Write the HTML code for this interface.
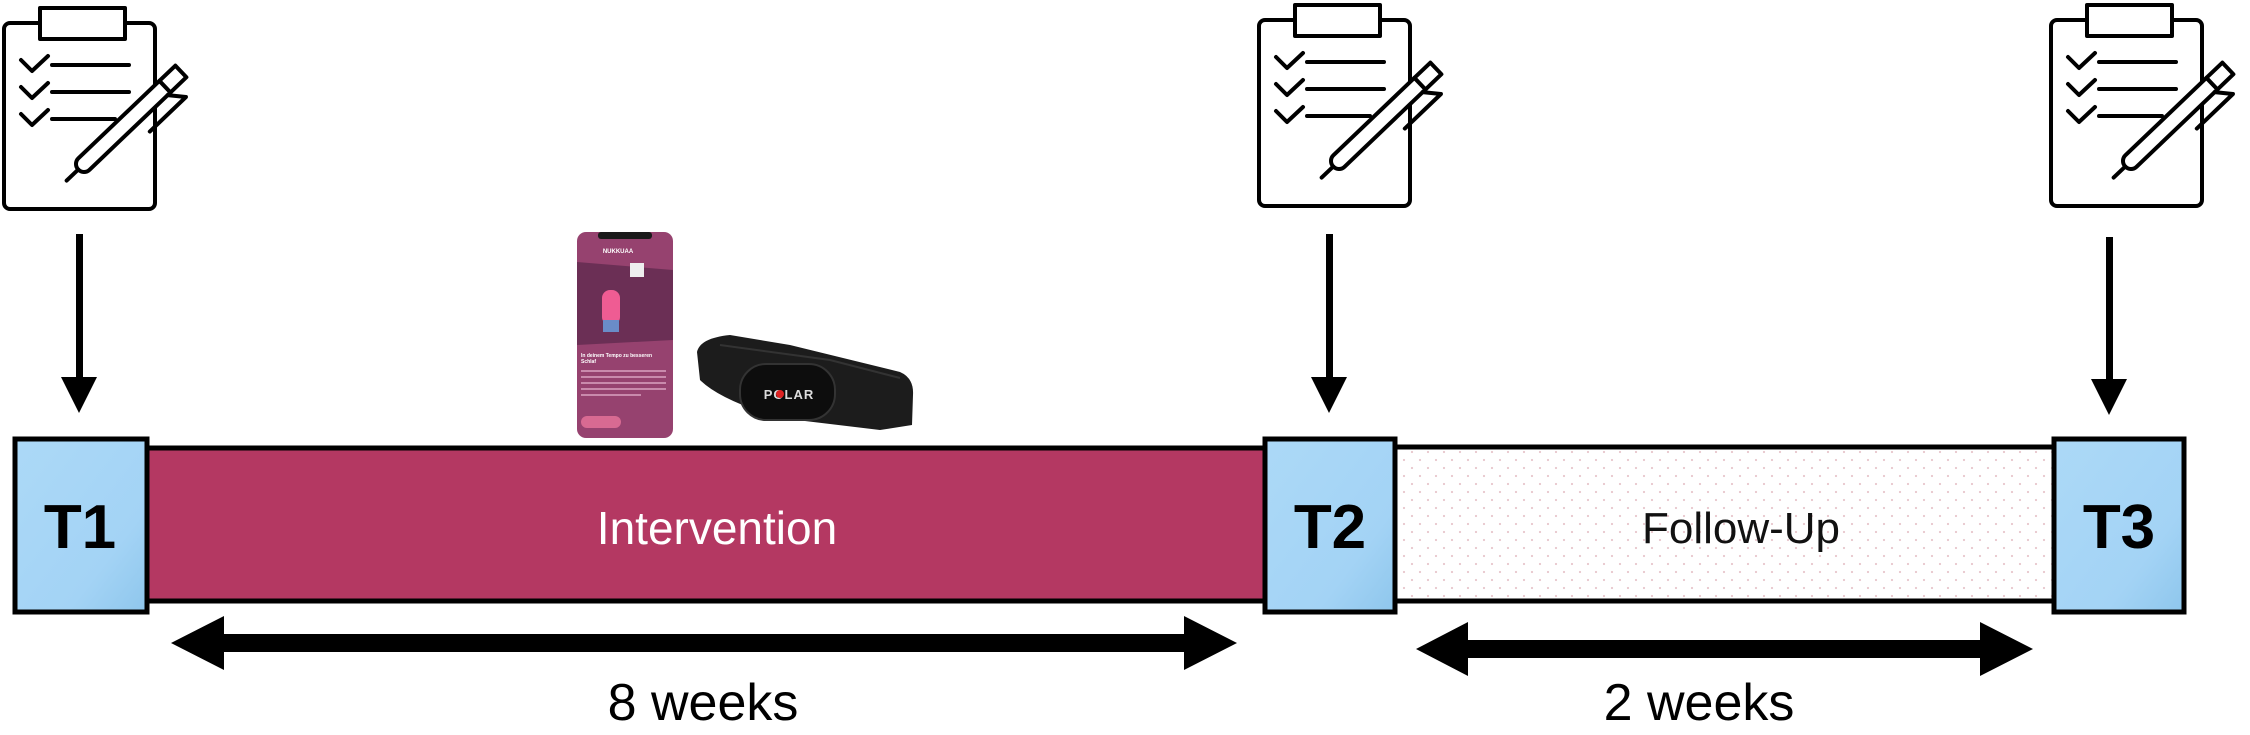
<!DOCTYPE html>
<html><head><meta charset="utf-8"><style>
html,body{margin:0;padding:0;background:#fff;}
svg{display:block;}
text{font-family:"Liberation Sans",sans-serif;}
</style></head><body>
<svg width="2250" height="735" viewBox="0 0 2250 735" xmlns="http://www.w3.org/2000/svg">
<defs>
<linearGradient id="bl" x1="0" y1="0" x2="1" y2="1">
<stop offset="0" stop-color="#acd9f7"/><stop offset="0.7" stop-color="#a3d3f5"/><stop offset="1" stop-color="#8ec6ec"/>
</linearGradient>
<pattern id="dots" width="16" height="16" patternUnits="userSpaceOnUse">
<rect width="16" height="16" fill="#fff"/><circle cx="4" cy="4" r="1.1" fill="#e8c6cc"/><circle cx="12" cy="12" r="1.1" fill="#e8c6cc"/>
</pattern>
<g id="clip" fill="none" stroke="#000" stroke-width="4" stroke-linecap="round" stroke-linejoin="round">
<rect x="4" y="23" width="151" height="186" rx="6" fill="#fff"/>
<rect x="40" y="8" width="85" height="31" fill="#fff"/>
<path d="M21 60l11 11 16-15M21 87l11 11 16-15M21 114l11 11 16-15"/>
<path d="M52 65h77M52 92h77M52 119h63"/>
<g transform="translate(84,164) rotate(-43.7)">
<path d="M0,-8 L112,-8 L112,8 L0,8 A8,8 0 0 1 0,-8 Z" fill="#fff"/>
<rect x="112" y="-8" width="22" height="16" fill="#fff"/>
<path d="M-8,0 L-24,0"/>
<path d="M108,8 L120,22 L70,22"/>
</g>
</g>
</defs>

<use href="#clip" x="0" y="0"/>
<use href="#clip" x="1255" y="-3"/>
<use href="#clip" x="2047" y="-3"/>

<g fill="#000">
<rect x="76" y="234" width="7" height="145"/><polygon points="61,377 97,377 79,413"/>
<rect x="1326" y="234" width="7" height="145"/><polygon points="1311,377 1347,377 1329,413"/>
<rect x="2106" y="237" width="7" height="145"/><polygon points="2091,379 2127,379 2109,415"/>
</g>

<rect x="146" y="448" width="1120" height="153" fill="#b43862" stroke="#000" stroke-width="5"/>
<rect x="1394" y="447" width="660" height="154" fill="url(#dots)" stroke="#000" stroke-width="5"/>
<rect x="15" y="439" width="132" height="173" fill="url(#bl)" stroke="#000" stroke-width="5"/>
<rect x="1265" y="439" width="130" height="173" fill="url(#bl)" stroke="#000" stroke-width="5"/>
<rect x="2054" y="439" width="130" height="173" fill="url(#bl)" stroke="#000" stroke-width="5"/>

<text x="80" y="548" font-size="62" font-weight="bold" text-anchor="middle">T1</text>
<text x="1330" y="548" font-size="62" font-weight="bold" text-anchor="middle">T2</text>
<text x="2119" y="548" font-size="62" font-weight="bold" text-anchor="middle">T3</text>
<text x="717" y="544" font-size="46" fill="#fff" text-anchor="middle">Intervention</text>
<text x="1741" y="543" font-size="44" fill="#111" text-anchor="middle">Follow-Up</text>

<g fill="#000">
<polygon points="171,643 224,616 224,634 1184,634 1184,616 1237,643 1184,670 1184,652 224,652 224,670"/>
<polygon points="1416,649 1468,622 1468,640 1980,640 1980,622 2033,649 1980,676 1980,658 1468,658 1468,676"/>
</g>
<text x="703" y="720" font-size="52" text-anchor="middle">8 weeks</text>
<text x="1699" y="720" font-size="52" text-anchor="middle">2 weeks</text>

<rect x="577" y="232" width="96" height="206" rx="9" fill="#96426f"/>
<rect x="598" y="232" width="54" height="7" rx="3" fill="#1a1a1a"/>
<path d="M577 262 L673 270 L673 340 L577 345 Z" fill="#6b2f55"/>
<rect x="602" y="290" width="18" height="35" rx="8" fill="#ef5c93"/>
<rect x="603" y="320" width="16" height="12" fill="#6a8cc8"/>
<rect x="630" y="263" width="14" height="14" fill="#eee"/>
<text x="618" y="253" font-size="6" fill="#fff" font-weight="bold" text-anchor="middle">NUKKUAA</text>
<text x="581" y="357" font-size="5" fill="#fff" font-weight="bold">In deinem Tempo zu besseren</text>
<text x="581" y="363" font-size="5" fill="#fff" font-weight="bold">Schlaf</text>
<rect x="581" y="370" width="85" height="2" fill="#c98aac"/><rect x="581" y="376" width="85" height="2" fill="#c98aac"/>
<rect x="581" y="382" width="85" height="2" fill="#c98aac"/><rect x="581" y="388" width="85" height="2" fill="#c98aac"/>
<rect x="581" y="394" width="60" height="2" fill="#c98aac"/>
<rect x="581" y="416" width="40" height="12" rx="6" fill="#d86a92"/>

<path d="M697 352 Q700 338 730 335 L790 345 L900 372 Q914 378 913 395 L912 425 L880 430 L780 418 Q720 400 700 380 Z" fill="#1c1c1c"/>
<path d="M720 345 L830 360 L900 378" stroke="#333" stroke-width="2" fill="none"/>
<rect x="740" y="364" width="95" height="56" rx="26" fill="#0d0d0d" stroke="#333" stroke-width="2"/>
<text x="789" y="399" font-size="13" font-weight="bold" fill="#ddd" text-anchor="middle" letter-spacing="1">POLAR</text>
<circle cx="780" cy="394" r="4" fill="#d22"/>
</svg>
</body></html>
